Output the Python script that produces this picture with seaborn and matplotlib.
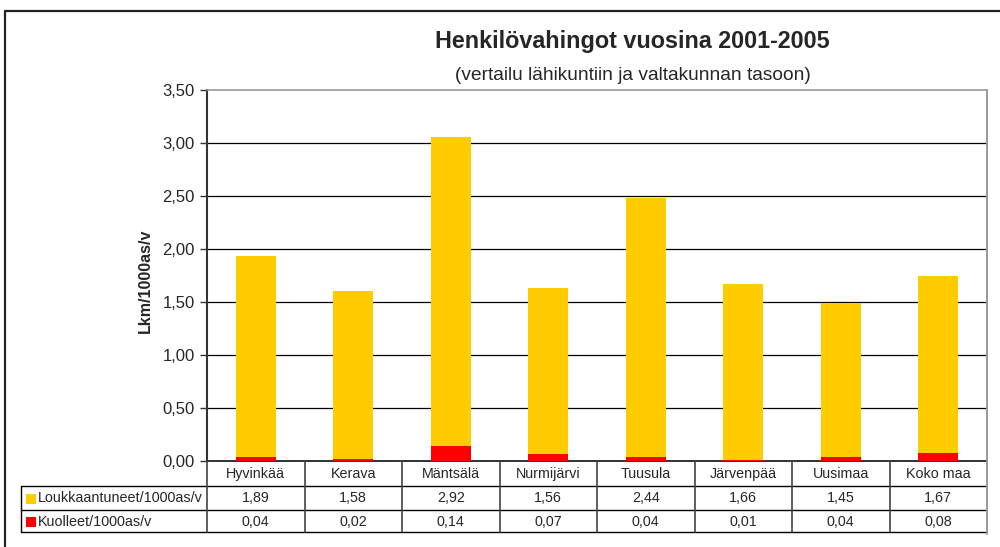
import matplotlib
matplotlib.use("Agg")
import matplotlib.pyplot as plt
from matplotlib.lines import Line2D
from matplotlib.patches import Rectangle
import seaborn as sns
import pandas as pd

categories = ["Hyvinkää", "Kerava", "Mäntsälä", "Nurmijärvi", "Tuusula", "Järvenpää", "Uusimaa", "Koko maa"]
loukkaantuneet = [1.89, 1.58, 2.92, 1.56, 2.44, 1.66, 1.45, 1.67]
kuolleet = [0.04, 0.02, 0.14, 0.07, 0.04, 0.01, 0.04, 0.08]
series_names = ["Loukkaantuneet/1000as/v", "Kuolleet/1000as/v"]
yticks = [0.0, 0.5, 1.0, 1.5, 2.0, 2.5, 3.0, 3.5]

YELLOW = "#FFCC00"
RED = "#FF0000"

sns.set_style("white")
plt.rcParams["font.family"] = ["Liberation Sans", "DejaVu Sans"]

W, H = 1000, 547
fig = plt.figure(figsize=(W / 100, H / 100), dpi=100)

def fx(px):
    return px / W

def fy(py):
    return 1 - py / H

ax_l, ax_r, ax_t, ax_b = 207, 987, 90, 461
ax = fig.add_axes([fx(ax_l), fy(ax_b), fx(ax_r - ax_l), fy(ax_t) - fy(ax_b)])

df = pd.DataFrame({
    "kunta": categories,
    "total": [a + b for a, b in zip(loukkaantuneet, kuolleet)],
    "kuolleet": kuolleet,
})

sns.barplot(data=df, x="kunta", y="total", color=YELLOW, width=0.41, ax=ax,
            saturation=1, edgecolor="none", zorder=3)
sns.barplot(data=df, x="kunta", y="kuolleet", color=RED, width=0.41, ax=ax,
            saturation=1, edgecolor="none", zorder=4)

ax.set_xlim(-0.5, len(categories) - 0.5)
ax.set_ylim(0, 3.5)
ax.set_yticks(yticks)
ax.set_yticklabels([f"{v:.2f}".replace(".", ",") for v in yticks], fontsize=12)
ax.set_xticks([])
ax.set_xlabel("")
ax.set_ylabel("")
for v in yticks[1:-1]:
    ax.axhline(v, color="black", lw=0.9, zorder=1)
ax.tick_params(axis="y", length=5, width=1, color="#333333", direction="out", pad=4, left=True)
ax.spines["top"].set_color("#999999")
ax.spines["top"].set_linewidth(1.2)
ax.spines["right"].set_visible(False)
ax.spines["left"].set_color("#333333")
ax.spines["left"].set_linewidth(1.5)
ax.spines["bottom"].set_color("#222222")
ax.spines["bottom"].set_linewidth(1.3)

# y label
fig.text(fx(145), fy(281), "Lkm/1000as/v", rotation=90, fontsize=11.5, fontweight="bold",
         ha="center", va="center")

# Titles
fig.text(fx(632), fy(48), "Henkilövahingot vuosina 2001-2005", fontsize=16.8, fontweight="bold",
         ha="center", va="baseline")
fig.text(fx(633), fy(80), "(vertailu lähikuntiin ja valtakunnan tasoon)", fontsize=13.8,
         ha="center", va="baseline")

# Outer frame (top and left edges visible)
fig.add_artist(Line2D([fx(5), fx(5)], [fy(547), fy(11)], color="#222222", lw=1.6,
                      transform=fig.transFigure))
fig.add_artist(Line2D([fx(5), fx(1000)], [fy(11), fy(11)], color="#222222", lw=1.6,
                      transform=fig.transFigure))

# Data table
row_top, row1, row2, row_bot = 461, 486, 510, 532
tbl_left = 21
cat_w = (ax_r - ax_l) / len(categories)

def hline(y, x0, x1, color="black", lw=1.0):
    fig.add_artist(Line2D([fx(x0), fx(x1)], [fy(y), fy(y)], color=color, lw=lw,
                          transform=fig.transFigure))

def vline(x, y0, y1, color="#444444", lw=1.2):
    fig.add_artist(Line2D([fx(x), fx(x)], [fy(y0), fy(y1)], color=color, lw=lw,
                          transform=fig.transFigure))

hline(row1, tbl_left, ax_r)
hline(row2, tbl_left, ax_r)
hline(row_bot, tbl_left, ax_r)
vline(tbl_left, row1, row_bot, color="black", lw=1.0)
vline(ax_l, row_top, row_bot)
for i in range(1, len(categories)):
    vline(ax_l + i * cat_w, row_top, row_bot)
vline(ax_r, ax_t, row_bot + 2, color="#999999", lw=1.4)

for i, c in enumerate(categories):
    cx = ax_l + (i + 0.5) * cat_w
    fig.text(fx(cx), fy((row_top + row1) / 2 + 0.5), c, fontsize=10.3, ha="center", va="center")
    fig.text(fx(cx), fy((row1 + row2) / 2 + 0.5), f"{loukkaantuneet[i]:.2f}".replace(".", ","),
             fontsize=10.3, ha="center", va="center")
    fig.text(fx(cx), fy((row2 + row_bot) / 2 + 0.5), f"{kuolleet[i]:.2f}".replace(".", ","),
             fontsize=10.3, ha="center", va="center")

for (y0, y1), name, col in zip([(row1, row2), (row2, row_bot)], series_names, [YELLOW, RED]):
    cy = (y0 + y1) / 2 + 1
    fig.add_artist(Rectangle((fx(26), fy(cy + 5)), fx(10), fy(cy - 5) - fy(cy + 5),
                             facecolor=col, edgecolor="none", transform=fig.transFigure))
    fig.text(fx(37.5), fy(cy - 0.5), name, fontsize=10.4, ha="left", va="center")

fig.savefig("out.png", dpi=100)
